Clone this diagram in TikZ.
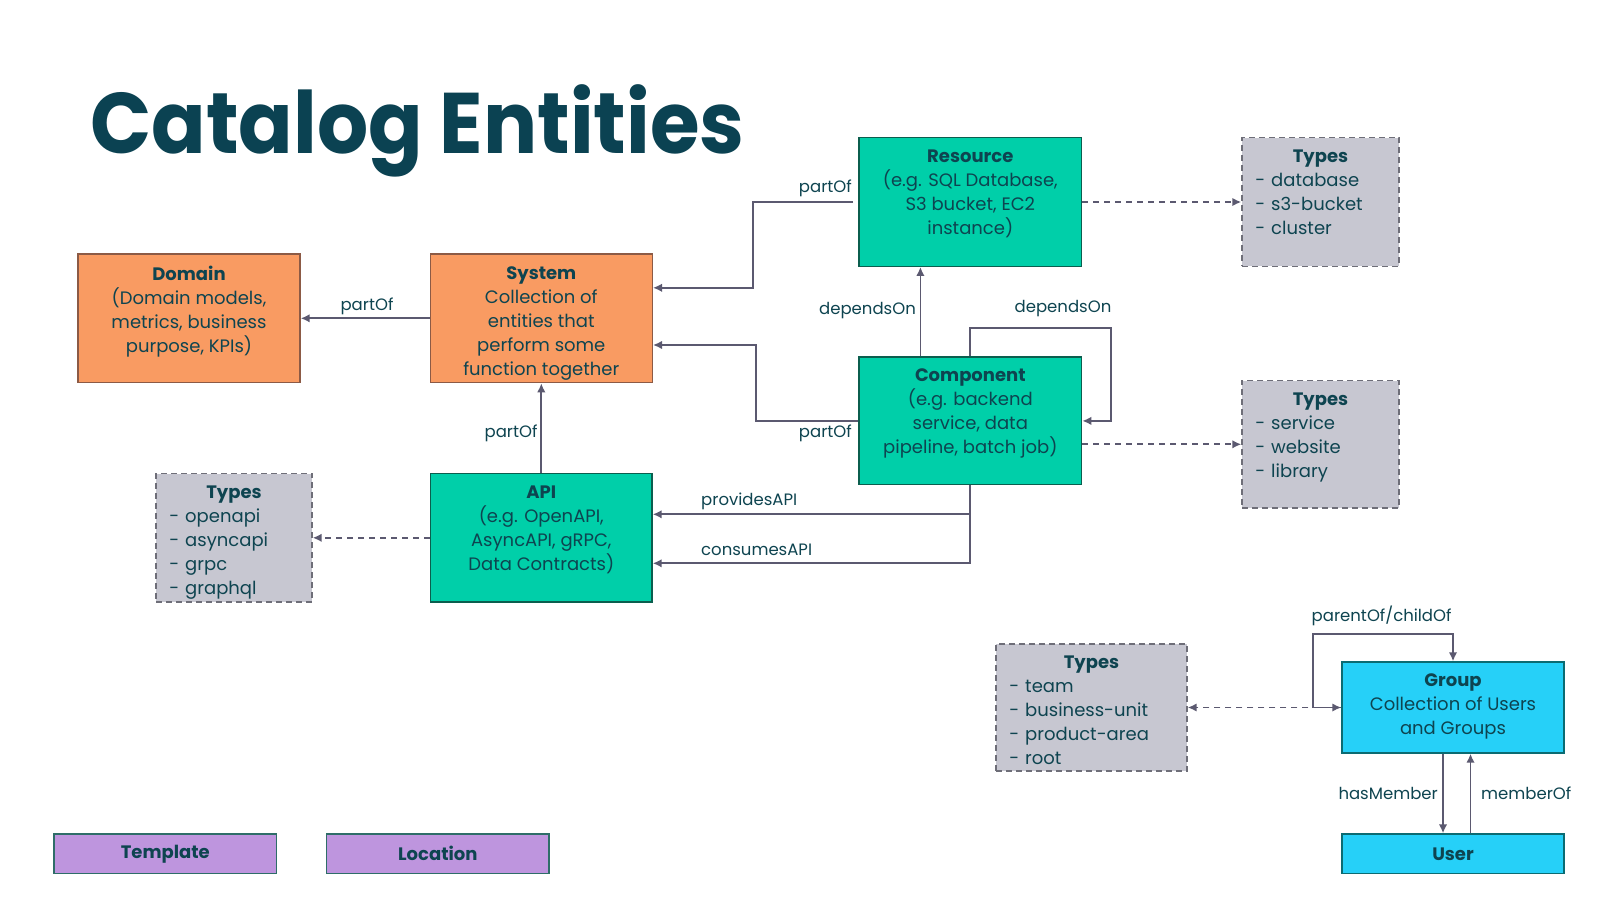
\documentclass[tikz,border=0pt]{standalone}
\usepackage{fontspec}
\setmainfont{Poppins}
\usetikzlibrary{arrows.meta}
\definecolor{ink}{HTML}{0E4450}
\definecolor{titlec}{HTML}{0B4252}
\definecolor{orfill}{HTML}{F99B62}
\definecolor{ordraw}{HTML}{8C5A45}
\definecolor{tlfill}{HTML}{00CFA9}
\definecolor{tldraw}{HTML}{0B5E4E}
\definecolor{gyfill}{HTML}{C7C7D1}
\definecolor{gydraw}{HTML}{6E6E78}
\definecolor{cyfill}{HTML}{26D0F8}
\definecolor{cydraw}{HTML}{0B6B72}
\definecolor{pufill}{HTML}{BE95DE}
\definecolor{pudraw}{HTML}{2E6D68}
\definecolor{arrowc}{HTML}{5B5970}
\tikzset{
  ent/.style={draw, line width=1.4pt, inner sep=0pt, text=ink},
  orangebox/.style={ent, fill=orfill, draw=ordraw},
  tealbox/.style={ent, fill=tlfill, draw=tldraw},
  typebox/.style={ent, fill=gyfill, draw=gydraw, dash pattern=on 6pt off 4pt},
  cyanbox/.style={ent, fill=cyfill, draw=cydraw},
  purplebox/.style={ent, fill=pufill, draw=pudraw},
  boxtext/.style={anchor=north, align=center, inner sep=0pt, text=ink, font=\fontsize{18}{24}\selectfont},
  listtext/.style={anchor=north, align=left, inner sep=0pt, text=ink, font=\fontsize{18}{24}\selectfont},
  rel/.style={draw=arrowc, line width=1.8pt, -{Latex[length=9pt,width=8.5pt]}},
  dashrel/.style={rel, dash pattern=on 6pt off 5pt},
  lbl/.style={text=ink, font=\fontsize{16.5}{20}\selectfont, inner sep=0pt}
}
\begin{document}
\begin{tikzpicture}[x=1pt,y=-1pt]
\useasboundingbox[fill=white] (0,0) rectangle (1600,900);

% title
\node[anchor=base west, inner sep=0pt, text=titlec, font=\fontsize{86}{86}\selectfont\bfseries] (title) at (90,153) {\scalebox{0.935}[1]{Catalog Entities}};

% boxes
\node[orangebox, minimum width=222pt, minimum height=128.6pt] (dom) at (189,318.3) {};
\node[orangebox, minimum width=222pt, minimum height=128.6pt] (sys) at (541.3,318.3) {};
\node[tealbox, minimum width=222.6pt, minimum height=128.5pt] (res) at (970.3,202) {};
\node[tealbox, minimum width=222.6pt, minimum height=127.7pt] (comp) at (970.3,420.9) {};
\node[tealbox, minimum width=221.4pt, minimum height=128.5pt] (api) at (541.3,537.8) {};
\node[typebox, minimum width=157pt, minimum height=128.5pt] (tres) at (1320.5,202) {};
\node[typebox, minimum width=157pt, minimum height=127.4pt] (tcomp) at (1320.5,444.3) {};
\node[typebox, minimum width=156pt, minimum height=128.5pt] (tapi) at (234,537.8) {};
\node[typebox, minimum width=191pt, minimum height=127pt] (tgrp) at (1091.5,707.5) {};
\node[cyanbox, minimum width=222pt, minimum height=91pt] (grp) at (1453,707.5) {};
\node[cyanbox, minimum width=222pt, minimum height=39.5pt, font=\fontsize{18}{24}\selectfont\bfseries] (usr) at (1453,853.8) {User};
\node[purplebox, minimum width=222.5pt, minimum height=39.5pt, font=\fontsize{18}{24}\selectfont\bfseries] (tpl) at (165.3,853.8) {Template};
\node[purplebox, minimum width=222.5pt, minimum height=39.5pt, font=\fontsize{18}{24}\selectfont\bfseries] (loc) at (437.8,853.8) {Location};

% box texts
\node[boxtext] (domT) at (189,266) {\textbf{Domain}\\(Domain models,\\metrics, business\\purpose, KPIs)};
\node[boxtext] (sysT) at (541.3,266) {\textbf{System}\\Collection of\\entities that\\perform some\\function together};
\node[boxtext] (resT) at (970.3,150) {\textbf{Resource}\\(e.g. SQL Database,\\S3 bucket, EC2\\instance)};
\node[boxtext] (compT) at (970.3,369) {\textbf{Component}\\(e.g. backend\\service, data\\pipeline, batch job)};
\node[boxtext] (apiT) at (541.3,485.5) {\textbf{API}\\(e.g. OpenAPI,\\AsyncAPI, gRPC,\\Data Contracts)};
\node[boxtext] (grpT) at (1453,674) {\textbf{Group}\\Collection of Users\\and Groups};

\node[listtext, text width=130.4pt] (tresT) at (1320.5,150) {\hfill\textbf{Types}\hfill\null\\- database\\- s3-bucket\\- cluster};
\node[listtext, text width=130.4pt] (tcompT) at (1320.5,393) {\hfill\textbf{Types}\hfill\null\\- service\\- website\\- library};
\node[listtext, text width=129.4pt] (tapiT) at (234,485.5) {\hfill\textbf{Types}\hfill\null\\- openapi\\- asyncapi\\- grpc\\- graphql};
\node[listtext, text width=164.4pt] (tgrpT) at (1091.5,656) {\hfill\textbf{Types}\hfill\null\\- team\\- business-unit\\- product-area\\- root};

% connectors
\draw[rel] (sys.west) -- (dom.east);
\node[lbl] (l1) at (367,306) {partOf};

\coordinate (resstart) at (853,202);
\draw[rel] (resstart) -- (753,202) -- (753,287.8) -- (sys.east |- 0,287.8);
\node[lbl, anchor=east] (l2) at (852,188) {partOf};

\draw[rel] (comp.west) -- (756,420.9) -- (756,345) -- (sys.east |- 0,345);
\node[lbl, anchor=east] (l3) at (852,433) {partOf};

\draw[rel] (comp.north -| 920.4,0) -- (res.south -| 920.4,0);
\node[lbl, anchor=east] (l4) at (916,311) {dependsOn};

\draw[rel] (comp.north) -- (970.3,327.6) -- (1111,327.6) -- (1111,420.9) -- (comp.east);
\node[lbl] (l5) at (1063,309) {dependsOn};

\draw[rel] (comp.south) -- (970.3,514.3) -- (api.east |- 0,514.3);
\node[lbl, anchor=west] (l6) at (701,501) {providesAPI};
\draw[rel] (comp.south) -- (970.3,563.3) -- (api.east |- 0,563.3);
\node[lbl, anchor=west] (l7) at (701,550) {consumesAPI};

\draw[rel] (api.north) -- (sys.south);
\node[lbl, anchor=east] (l8) at (537.7,433) {partOf};

\draw[dashrel] (api.west) -- (tapi.east);
\draw[dashrel] (res.east) -- (tres.west);
\draw[dashrel] (tcomp.west -| comp.east) -- (tcomp.west);
\draw[dashrel] (grp.west) -- (tgrp.east);

\draw[rel, {Latex[length=9pt,width=8.5pt]}-{Latex[length=9pt,width=8.5pt]}] (grp.west) -- (1313.3,707.5) -- (1313.3,633.7) -- (1453,633.7) -- (grp.north);
\node[lbl] (l9) at (1381.6,616.3) {parentOf/childOf};

\draw[rel] (grp.south -| 1443,0) -- (usr.north -| 1443,0);
\node[lbl, anchor=east] (l10) at (1438,793) {hasMember};
\draw[rel] (usr.north -| 1470.5,0) -- (grp.south -| 1470.5,0);
\node[lbl, anchor=west] (l11) at (1481,793) {memberOf};
\end{tikzpicture}
\end{document}
